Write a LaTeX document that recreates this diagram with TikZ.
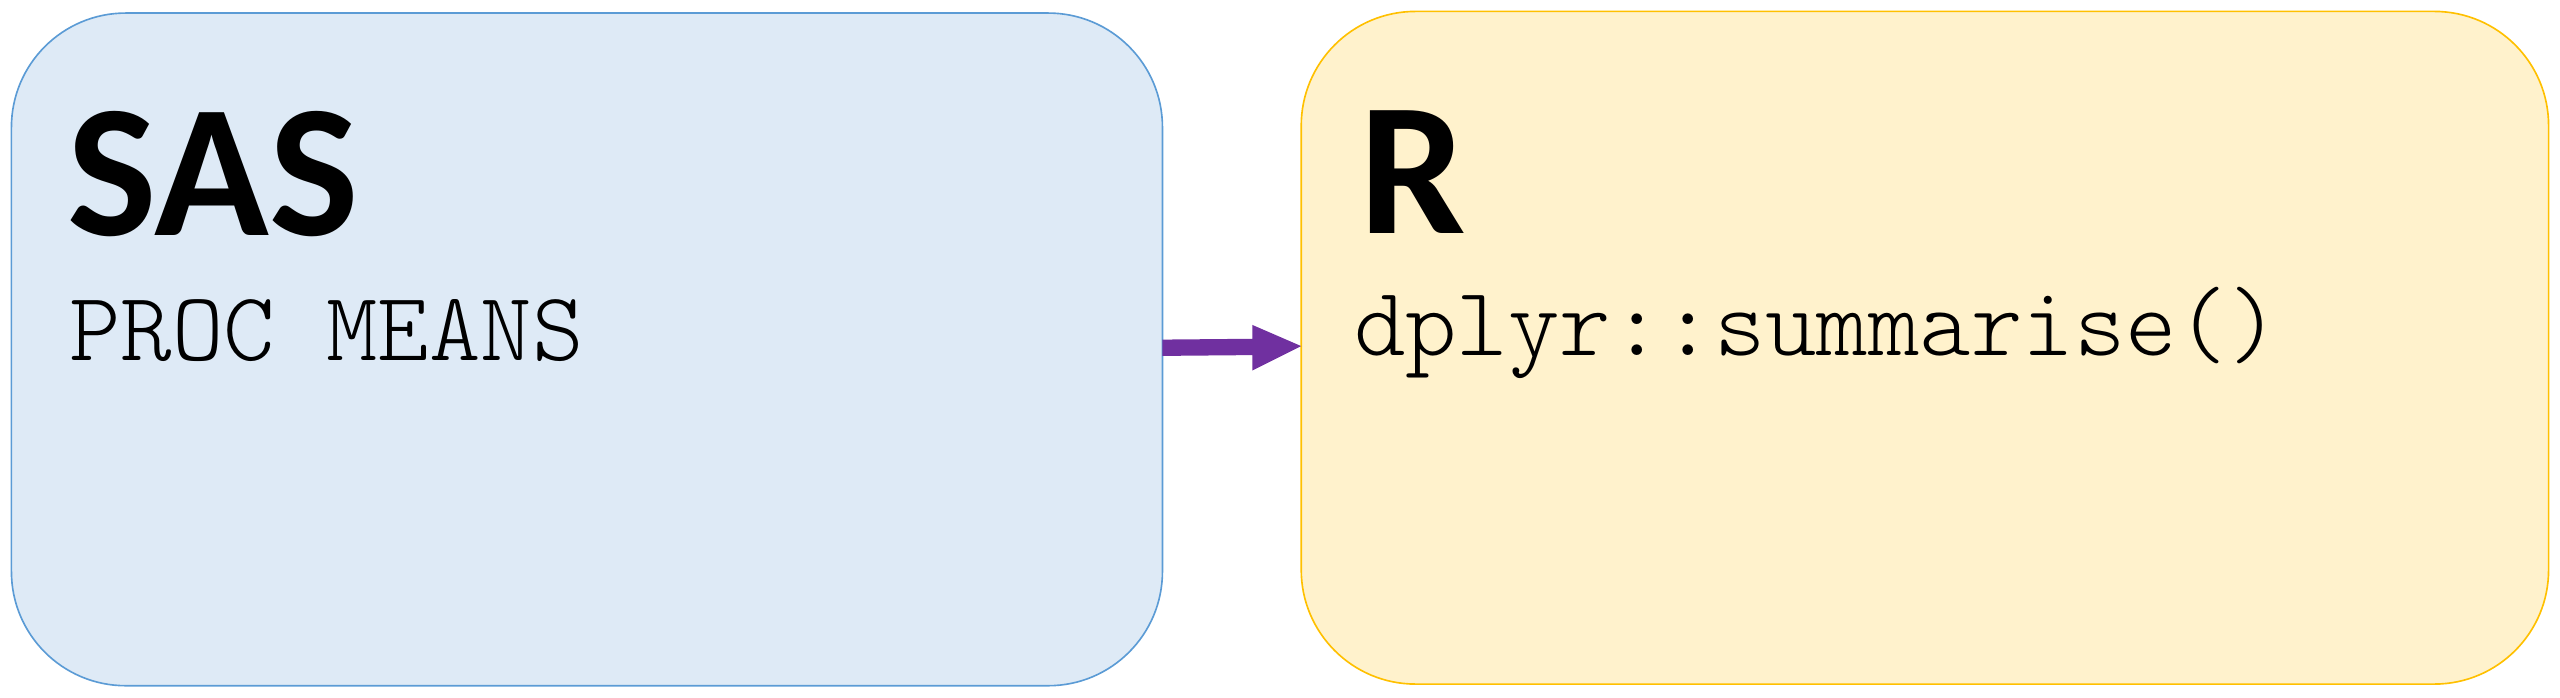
\documentclass[tikz,border=0pt]{standalone}
\usepackage{fontspec}
\setmainfont{Carlito}
\setmonofont{Latin Modern Mono Light}
\definecolor{bluefill}{HTML}{DEEAF6}
\definecolor{blueline}{HTML}{5B9BD5}
\definecolor{yelfill}{HTML}{FFF2CC}
\definecolor{yelline}{HTML}{FFC000}
\definecolor{arrowc}{HTML}{7030A0}
\begin{document}
\begin{tikzpicture}[x=0.5pt,y=-0.5pt,
  panel/.style={line width=0.5pt,rounded corners=35pt},
  title/.style={anchor=base west,inner sep=0pt,font=\fontsize{58}{60}\selectfont\bfseries},
  code/.style={anchor=base west,inner sep=0pt,font=\ttfamily\fontsize{30}{32}\selectfont}]
\useasboundingbox (0,0) rectangle (1568,427);
\draw[panel,draw=blueline,fill=bluefill] (7,8) rectangle (712,420);
\draw[panel,draw=yelline,fill=yelfill] (797,7) rectangle (1561,419);
\node[title] (sas) at (41,144) {SAS};
\node[code] (pm) at (42,221) {PROC MEANS};
\node[title] (rr) at (832,143) {R};
\node[code] (dp) at (829,218) {dplyr::summarise()};
\fill[arrowc] (712,208) -- (767,207.5) -- (767,199) -- (797,212) -- (767,227) -- (767,217.5) -- (712,218) -- cycle;
\end{tikzpicture}
\end{document}
